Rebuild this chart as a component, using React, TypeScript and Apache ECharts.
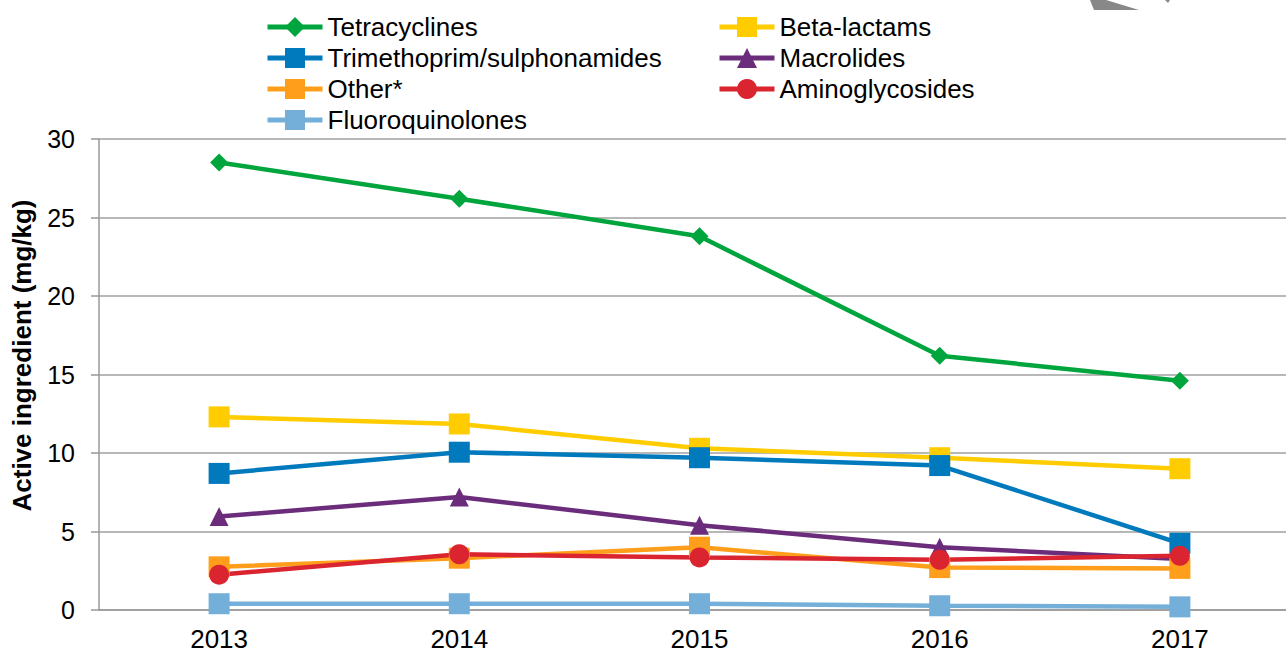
import React, { useEffect, useRef } from "react";
import * as echarts from "echarts";

const years = ["2013", "2014", "2015", "2016", "2017"];
const tetracyclines = [28.5, 26.2, 23.8, 16.2, 14.6];
const betaLactams = [12.3, 11.85, 10.3, 9.7, 9.0];
const trimethoprim = [8.7, 10.05, 9.7, 9.2, 4.25];
const macrolides = [5.95, 7.2, 5.4, 4.0, 3.25];
const other = [2.75, 3.3, 4.0, 2.7, 2.65];
const aminoglycosides = [2.25, 3.55, 3.35, 3.2, 3.45];
const fluoroquinolones = [0.4, 0.4, 0.4, 0.27, 0.2];

const seriesDefs = [
  { name: "Tetracyclines", data: tetracyclines, color: "#00A53D", symbol: "diamond", size: 18 },
  { name: "Beta-lactams", data: betaLactams, color: "#FFCC00", symbol: "rect", size: 21 },
  { name: "Trimethoprim/sulphonamides", data: trimethoprim, color: "#0079BD", symbol: "rect", size: 21 },
  { name: "Macrolides", data: macrolides, color: "#6B2D7B", symbol: "triangle", size: 19 },
  { name: "Other*", data: other, color: "#FF9E1B", symbol: "rect", size: 21 },
  { name: "Aminoglycosides", data: aminoglycosides, color: "#DA242F", symbol: "circle", size: 20 },
  { name: "Fluoroquinolones", data: fluoroquinolones, color: "#74AFD9", symbol: "rect", size: 21 },
];

const FONT = "'Liberation Sans', Arial, sans-serif";

export default function App() {
  const ref = useRef<HTMLDivElement>(null);
  useEffect(() => {
    if (!ref.current) return;
    const chart = echarts.init(ref.current, undefined, { renderer: "svg" });
    const legendBase = {
      orient: "vertical",
      itemWidth: 55,
      itemHeight: 25,
      itemGap: 5,
      padding: 0,
      lineStyle: { width: 5 },
      textStyle: { fontSize: 26, color: "#000", fontFamily: FONT, lineHeight: 26 },
      selectedMode: false,
    };
    chart.setOption({
      animation: false,
      backgroundColor: "#fff",
      textStyle: { fontFamily: FONT },
      graphic: [
        {
          type: "polygon",
          shape: { points: [[1090, 0], [1106, 0], [1139, 10], [1094, 10]] },
          style: { fill: "#888" },
        },
        {
          type: "polygon",
          shape: { points: [[1165, 0], [1170, 0], [1168, 3]] },
          style: { fill: "#888" },
        },
      ],
      legend: [
        {
          ...legendBase,
          left: 265,
          top: 14,
          data: ["Tetracyclines", "Trimethoprim/sulphonamides", "Other*", "Fluoroquinolones"],
        },
        {
          ...legendBase,
          left: 717,
          top: 14,
          data: ["Beta-lactams", "Macrolides", "Aminoglycosides"],
        },
      ],
      grid: { left: 99, top: 139, bottom: 43, right: 0, containLabel: false, outerBoundsMode: "none" },
      xAxis: {
        type: "category",
        data: years,
        boundaryGap: true,
        axisLine: { show: true, lineStyle: { color: "#999", width: 1.5 } },
        axisTick: { show: false },
        axisLabel: { fontSize: 26, color: "#000", margin: 16, fontFamily: FONT },
        splitLine: { show: false },
      },
      yAxis: {
        type: "value",
        min: 0,
        max: 30,
        interval: 5,
        name: "Active ingredient (mg/kg)",
        nameLocation: "middle",
        nameRotate: 90,
        nameGap: 64,
        nameTextStyle: {
          fontSize: 26,
          fontWeight: "bold",
          color: "#000",
          fontFamily: FONT,
          padding: [0, 0, 0, 38],
        },
        axisLine: { show: true, lineStyle: { color: "#999", width: 1.5 } },
        axisTick: { show: true, length: 8, lineStyle: { color: "#999", width: 1.5 } },
        axisLabel: { fontSize: 25, color: "#000", margin: 24, fontFamily: FONT },
        splitLine: { show: true, lineStyle: { color: "#a0a0a0", width: 1.5 } },
      },
      series: seriesDefs.map((s) => ({
        name: s.name,
        type: "line",
        data: s.data,
        symbol: s.symbol,
        symbolSize: s.size,
        lineStyle: { color: s.color, width: 4.5 },
        itemStyle: { color: s.color },
        color: s.color,
      })),
    });
    return () => chart.dispose();
  }, []);
  return (
    <div style={{ position: "absolute", left: 0, top: 0, width: 1286, height: 653, overflow: "hidden" }}>
      <div ref={ref} style={{ width: 1300, height: 653 }} />
    </div>
  );
}
